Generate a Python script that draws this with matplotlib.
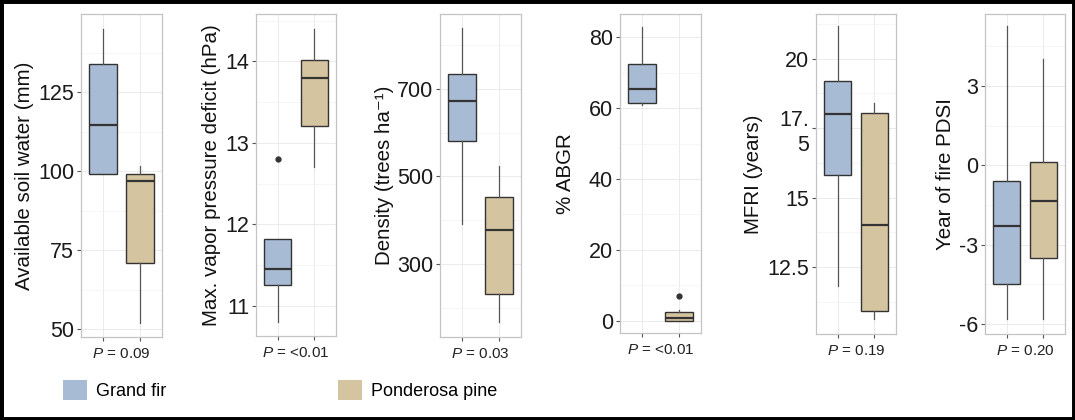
import matplotlib
matplotlib.use("Agg")
import matplotlib.pyplot as plt
from matplotlib.patches import Rectangle, Patch

plt.rcParams['font.family'] = ['Liberation Sans', 'DejaVu Sans']
plt.rcParams['mathtext.fontset'] = 'custom'
plt.rcParams['mathtext.rm'] = 'Liberation Sans'
plt.rcParams['mathtext.it'] = 'Liberation Sans:italic'

# species / colours
species = ["Grand fir", "Ponderosa pine"]
box_colors = ["#A8BBD5", "#D5C4A0"]

# panel labels and p-values
ylabels = ["Available soil water (mm)", "Max. vapor pressure deficit (hPa)",
           "Density (trees ha\u207b\u00b9)", "% ABGR", "MFRI (years)", "Year of fire PDSI"]
pvals = ["0.09", "<0.01", "0.03", "<0.01", "0.19", "0.20"]

# box stats per panel: [whislo, q1, med, q3, whishi] for grand fir, ponderosa pine
gf_stats = [
    [99.0, 99.0, 114.6, 133.9, 144.9],
    [10.80, 11.25, 11.45, 11.82, 11.82],
    [392, 580, 672, 734, 839],
    [61.0, 61.5, 65.4, 72.4, 82.8],
    [11.83, 15.82, 17.99, 19.19, 21.18],
    [-5.8, -4.5, -2.3, -0.6, 5.27],
]
pp_stats = [
    [52.0, 71.0, 96.8, 99.0, 101.7],
    [12.7, 13.2, 13.8, 14.02, 14.4],
    [167, 232, 377, 452, 523],
    [0.0, 0.0, 0.6, 2.4, 3.0],
    [10.63, 10.94, 14.0, 18.06, 18.39],
    [-5.8, -3.52, -1.35, 0.14, 4.0],
]
gf_outliers = [[], [12.8], [], [], [], []]
pp_outliers = [[], [], [], [7.0], [], []]

# axis settings
ylims = [(47.5, 149.7), (10.63, 14.58), (133, 871), (-3.5, 86.6), (10.1, 21.6), (-6.38, 5.72)]
yticks = [[50, 75, 100, 125], [11, 12, 13, 14], [300, 500, 700], [0, 20, 40, 60, 80],
          [12.5, 15, 17.5, 20], [-6, -3, 0, 3]]
yticklabels = [["50", "75", "100", "125"], ["11", "12", "13", "14"], ["300", "500", "700"],
               ["0", "20", "40", "60", "80"], ["12.5", "15", "17.\n5", "20"], ["-6", "-3", "0", "3"]]
label_pads = [3, 3, 2, 10, 3, 3]

# axes boxes in pixels: left, right, top, bottom
W, H = 1075, 420
ax_px = [(81, 162, 14, 337), (256, 336, 14, 336), (440, 521, 14, 337),
         (620, 701, 14, 333), (816, 896, 14, 334), (985, 1065, 14, 334)]

fig = plt.figure(figsize=(W / 100, H / 100), dpi=100)

for i in range(6):
    l, r, t, b = ax_px[i]
    ax = fig.add_axes([l / W, 1 - b / H, (r - l) / W, (b - t) / H])
    stats = []
    for s, fl in ((gf_stats[i], gf_outliers[i]), (pp_stats[i], pp_outliers[i])):
        stats.append(dict(whislo=s[0], q1=s[1], med=s[2], q3=s[3], whishi=s[4], fliers=fl))
    bp = ax.bxp(stats, positions=[1, 2], widths=0.75, patch_artist=True, showcaps=False,
                boxprops=dict(edgecolor="#333333", linewidth=1.0),
                medianprops=dict(color="#333333", linewidth=1.6),
                whiskerprops=dict(color="#555555", linewidth=0.9),
                flierprops=dict(marker="o", markersize=3.5, markerfacecolor="#333333",
                                markeredgecolor="#333333"))
    for patch, c in zip(bp["boxes"], box_colors):
        patch.set_facecolor(c)
    ax.set_yticks(yticks[i])
    ax.set_yticklabels(yticklabels[i], fontsize=15.5, color="#1A1A1A", linespacing=1.25)
    minor = [(a + c) / 2 for a, c in zip(yticks[i][:-1], yticks[i][1:])]
    step = yticks[i][1] - yticks[i][0]
    minor = [yticks[i][0] - step / 2] + minor + [yticks[i][-1] + step / 2]
    ax.set_yticks(minor, minor=True)
    ax.tick_params(axis="y", which="minor", length=0)
    ax.set_xticks([1, 2])
    ax.set_xticklabels(["", ""])
    # limits last, so the tick lists do not widen the view
    ax.set_xlim(0.4, 2.6)
    ax.set_ylim(*ylims[i])
    ax.tick_params(axis="both", which="major", length=3, width=0.8, color="#555555", pad=2)
    ax.grid(True, which="major", color="#EBEBEB", linewidth=0.7)
    ax.grid(True, which="minor", axis="y", color="#F5F5F5", linewidth=0.6)
    ax.set_axisbelow(True)
    for sp in ax.spines.values():
        sp.set_color("#C4C4C4")
        sp.set_linewidth(0.9)
    ax.set_ylabel(ylabels[i], fontsize=14.8, color="#111111", labelpad=label_pads[i])
    ax.text(0.5, -0.03, "$P$ = " + pvals[i], transform=ax.transAxes, ha="center", va="top",
            fontsize=11, color="#222222")

handles = [Patch(facecolor=c, edgecolor="none") for c in box_colors]
fig.legend(handles[:1], species[:1], loc="center left", bbox_to_anchor=(47 / W, 1 - 390 / H),
           frameon=False, fontsize=13, handlelength=1.3, handleheight=1.3, handletextpad=0.5)
fig.legend(handles[1:], species[1:], loc="center left", bbox_to_anchor=(322 / W, 1 - 390 / H),
           frameon=False, fontsize=13, handlelength=1.3, handleheight=1.3, handletextpad=0.5)

fig.add_artist(Rectangle((0, 0), 1, 1, transform=fig.transFigure, fill=False,
                         edgecolor="black", linewidth=5))

fig.savefig("out.png", dpi=100)
